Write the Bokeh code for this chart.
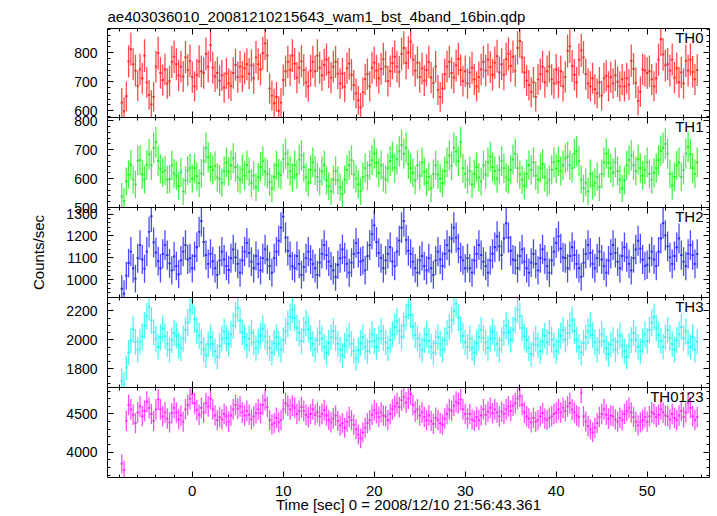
import math
import numpy as np
from bokeh.plotting import figure
from bokeh.models import Range1d, FixedTicker, LinearAxis, Label
from bokeh.layouts import column
from bokeh.embed import file_html
from bokeh.resources import INLINE

title_text = "ae403036010_20081210215643_wam1_bst_4band_16bin.qdp"
x_title = "Time [sec] 0 = 2008/12/10 21:56:43.361"
y_title = "Counts/sec"
panel_names = ["TH0", "TH1", "TH2", "TH3", "TH0123"]

t_first = -7.75
bin_width = 0.25

th0 = [628, 598, 650, 770, 812, 760, 738, 686, 742, 712, 790, 698, 655, 622, 648, 752,
       798, 730, 706, 742, 694, 702, 768, 786, 760, 722, 752, 718, 784, 740, 772, 716,
       684, 724, 770, 736, 730, 796, 752, 826, 748, 718, 730, 704, 722, 680, 728, 694,
       686, 730, 758, 716, 752, 718, 746, 760, 728, 756, 712, 784, 760, 742, 798, 832,
       790, 676, 652, 626, 648, 600, 628, 706, 736, 768, 740, 790, 762, 714, 748, 770,
       740, 698, 684, 738, 768, 736, 790, 748, 722, 758, 776, 732, 714, 752, 768, 728,
       694, 728, 682, 746, 762, 724, 688, 660, 636, 612, 664, 708, 726, 684, 748, 766,
       738, 712, 744, 778, 752, 702, 736, 764, 786, 752, 734, 796, 816, 764, 800, 838,
       776, 738, 766, 716, 746, 704, 740, 768, 714, 696, 752, 672, 648, 676, 726, 752,
       768, 730, 714, 756, 778, 740, 702, 736, 694, 732, 748, 708, 684, 716, 742, 768,
       738, 776, 750, 724, 766, 788, 732, 760, 724, 778, 796, 754, 786, 738, 816, 840,
       784, 732, 704, 688, 664, 698, 648, 708, 726, 752, 698, 736, 752, 708, 694, 742,
       698, 736, 684, 716, 806, 822, 754, 724, 698, 776, 808, 784, 726, 694, 684, 712,
       674, 660, 698, 652, 712, 720, 684, 716, 694, 722, 700, 684, 708, 684, 712, 690,
       772, 744, 696, 634, 666, 742, 738, 730, 736, 708, 684, 712, 776, 846, 794, 756,
       760, 738, 776, 714, 746, 698, 732, 694, 772, 738, 776, 734, 708, 740]

th1 = [538, 522, 590, 614, 648, 596, 580, 662, 664, 614, 596, 648, 684, 646, 706, 726,
       660, 634, 622, 628, 596, 598, 646, 618, 610, 574, 622, 556, 594, 628, 636, 600,
       636, 608, 584, 618, 660, 706, 674, 640, 630, 644, 604, 598, 586, 626, 656, 624,
       646, 670, 640, 604, 596, 632, 610, 646, 624, 584, 610, 570, 604, 640, 660, 624,
       616, 588, 566, 606, 646, 618, 612, 668, 686, 650, 626, 604, 646, 614, 666, 680,
       640, 604, 586, 630, 656, 628, 606, 590, 626, 646, 594, 574, 556, 596, 626, 594,
       570, 546, 596, 630, 646, 664, 614, 600, 580, 556, 606, 636, 610, 646, 664, 686,
       654, 620, 646, 604, 596, 636, 660, 676, 636, 666, 694, 716, 686, 706, 650, 636,
       620, 594, 646, 610, 656, 624, 586, 606, 566, 616, 646, 614, 600, 584, 626, 656,
       680, 644, 706, 694, 660, 726, 636, 616, 596, 626, 580, 616, 640, 604, 590, 646,
       614, 656, 676, 640, 626, 600, 630, 660, 636, 604, 596, 630, 666, 686, 636, 614,
       596, 576, 616, 646, 630, 656, 610, 596, 636, 650, 604, 586, 596, 630, 656, 634,
       660, 626, 646, 670, 676, 646, 636, 686, 694, 660, 596, 566, 586, 556, 616, 576,
       586, 606, 570, 616, 656, 686, 654, 636, 620, 656, 626, 596, 566, 594, 646, 664,
       680, 646, 626, 666, 636, 610, 630, 656, 616, 596, 620, 636, 664, 696, 706, 720,
       686, 616, 576, 606, 646, 656, 606, 630, 686, 710, 684, 636, 616, 656]

th2 = [958, 936, 1018, 1076, 1128, 1052, 1004, 1098, 1158, 1092, 1050, 1128, 1218, 1290, 1170, 1124,
       1084, 1052, 1118, 1158, 1112, 1074, 1042, 1106, 1062, 1024, 1088, 1128, 1158, 1092, 1098, 1052,
       1108, 1148, 1218, 1268, 1172, 1112, 1072, 1118, 1084, 1052, 1022, 1088, 1128, 1092, 1062, 1044,
       1098, 1138, 1102, 1072, 1032, 1088, 1128, 1168, 1122, 1082, 1052, 1108, 1072, 1042, 1098, 1138,
       1092, 1062, 1032, 1098, 1128, 1178, 1238, 1288, 1192, 1132, 1108, 1062, 1052, 1108, 1072, 1022,
       1058, 1098, 1128, 1092, 1072, 1052, 1022, 1078, 1118, 1158, 1112, 1082, 1062, 1042, 1012, 1068,
       1098, 1138, 1102, 1072, 1032, 1078, 1118, 1168, 1122, 1082, 1088, 1042, 1108, 1158, 1208, 1248,
       1172, 1122, 1098, 1052, 1088, 1118, 1148, 1082, 1062, 1128, 1178, 1238, 1268, 1182, 1132, 1118,
       1082, 1052, 1032, 1088, 1108, 1062, 1042, 1098, 1052, 1022, 1088, 1128, 1092, 1062, 1118, 1158,
       1132, 1188, 1238, 1192, 1142, 1102, 1088, 1052, 1098, 1052, 1032, 1088, 1118, 1158, 1112, 1082,
       1062, 1032, 1088, 1118, 1148, 1198, 1152, 1112, 1188, 1258, 1192, 1132, 1092, 1088, 1052, 1108,
       1138, 1082, 1052, 1032, 1078, 1118, 1072, 1042, 1098, 1138, 1092, 1062, 1032, 1088, 1128, 1168,
       1198, 1142, 1102, 1098, 1052, 1108, 1148, 1112, 1072, 1052, 1012, 1078, 1118, 1158, 1122, 1072,
       1052, 1098, 1128, 1092, 1062, 1032, 1088, 1118, 1158, 1122, 1082, 1052, 1108, 1148, 1102, 1072,
       1042, 1098, 1138, 1178, 1142, 1092, 1062, 1068, 1098, 1128, 1092, 1062, 1128, 1188, 1258, 1202,
       1152, 1102, 1072, 1108, 1148, 1188, 1112, 1082, 1062, 1118, 1158, 1112, 1072, 1118]

th3 = [1718, 1694, 1808, 1912, 1996, 2072, 1986, 1932, 1988, 2024, 2098, 2162, 2228, 2132, 2052, 2008,
       1952, 2018, 2078, 2024, 1972, 1932, 1998, 2048, 2028, 1962, 1942, 2008, 2068, 2118, 2208, 2268,
       2142, 2062, 2028, 1982, 1932, 1892, 1968, 2018, 1972, 1922, 1882, 1958, 2008, 2058, 2012, 1972,
       2038, 2098, 2168, 2218, 2132, 2052, 2018, 1962, 2008, 2048, 1982, 1942, 1988, 2028, 2078, 2022,
       1982, 1942, 1912, 1978, 2018, 1972, 1932, 1998, 2058, 2108, 2158, 2208, 2152, 2082, 2048, 1992,
       2068, 2118, 2072, 2012, 1972, 1932, 1998, 2048, 2008, 1952, 1912, 1978, 2018, 2058, 2012, 1972,
       1932, 1892, 1958, 1998, 2028, 1972, 1922, 1872, 1928, 1978, 2018, 1952, 1922, 1988, 2038, 1992,
       1952, 2008, 2058, 2012, 1982, 1942, 1998, 2038, 2088, 2128, 2062, 2022, 2098, 2158, 2238, 2172,
       2092, 2032, 2008, 1962, 1932, 1998, 2038, 1992, 1952, 1912, 1978, 2018, 1972, 1932, 1998, 2048,
       2088, 2138, 2198, 2248, 2152, 2072, 2028, 1982, 1952, 2008, 1942, 1912, 1978, 2018, 2068, 2012,
       1982, 1942, 2008, 2058, 2012, 1972, 1932, 1998, 2048, 2098, 2052, 2002, 2068, 2138, 2208, 2162,
       2082, 2022, 1998, 1942, 1902, 1968, 2008, 1962, 1922, 1988, 2028, 1982, 2048, 2002, 1962, 1922,
       1988, 2028, 2068, 2002, 2048, 2098, 2138, 2062, 2002, 1952, 1912, 1978, 2018, 2058, 2098, 2032,
       1982, 1932, 1988, 2038, 1992, 1942, 1902, 1968, 1998, 1932, 1988, 2028, 1962, 1922, 1882, 1958,
       1998, 2048, 2002, 1952, 1922, 1988, 2038, 1992, 2068, 2118, 2158, 2082, 2032, 1992, 1952, 2018,
       2068, 2012, 1972, 1932, 1998, 2038, 2088, 2012, 2058, 1982, 1952, 2018, 1932, 1988]

th0123 = [3850, 3770, 4410, 4620, 4560, 4490, 4380, 4520, 4600, 4470, 4540, 4660, 4580, 4500, 4410, 4560,
          4690, 4560, 4470, 4520, 4440, 4390, 4510, 4580, 4520, 4430, 4480, 4400, 4560, 4620, 4700, 4760,
          4640, 4550, 4490, 4580, 4520, 4640, 4600, 4700, 4560, 4480, 4420, 4460, 4430, 4500, 4470, 4400,
          4480, 4560, 4620, 4570, 4600, 4520, 4480, 4540, 4490, 4430, 4470, 4510, 4560, 4510, 4620, 4680,
          4590, 4420, 4360, 4380, 4450, 4390, 4420, 4560, 4640, 4610, 4560, 4610, 4580, 4500, 4540, 4590,
          4540, 4490, 4460, 4500, 4560, 4490, 4520, 4470, 4500, 4550, 4480, 4420, 4390, 4440, 4480, 4410,
          4350, 4380, 4320, 4400, 4460, 4420, 4360, 4300, 4230, 4180, 4260, 4320, 4380, 4420, 4490, 4550,
          4510, 4460, 4520, 4480, 4470, 4420, 4500, 4560, 4600, 4640, 4590, 4680, 4720, 4650, 4700, 4760,
          4620, 4530, 4560, 4480, 4520, 4460, 4420, 4480, 4410, 4370, 4450, 4420, 4380, 4360, 4440, 4500,
          4560, 4540, 4610, 4660, 4640, 4690, 4560, 4500, 4440, 4500, 4430, 4410, 4460, 4420, 4480, 4560,
          4490, 4530, 4580, 4510, 4560, 4520, 4470, 4530, 4500, 4560, 4600, 4540, 4610, 4640, 4700, 4730,
          4620, 4520, 4470, 4440, 4390, 4450, 4400, 4420, 4470, 4510, 4440, 4420, 4450, 4470, 4500, 4520,
          4560, 4520, 4580, 4540, 4600, 4640, 4560, 4520, 4480, 4460, 4780, 4470, 4400, 4340, 4300, 4260,
          4320, 4380, 4460, 4500, 4560, 4490, 4440, 4480, 4470, 4430, 4400, 4450, 4420, 4500, 4540, 4580,
          4520, 4460, 4400, 4350, 4390, 4420, 4460, 4400, 4470, 4520, 4500, 4460, 4490, 4560, 4520, 4480,
          4470, 4430, 4500, 4450, 4420, 4480, 4540, 4460, 4520, 4650, 4580, 4470, 4420, 4460]

series = [th0, th1, th2, th3, th0123]
colors = ["#ff2a2a", "#2aee2a", "#2a2aff", "#2af5f5", "#ff2aff"]
y_limits = [(577, 883), (500, 811), (918, 1330), (1671, 2292), (3670, 4846)]
y_major_ticks = [[600, 700, 800], [500, 600, 700, 800], [1000, 1100, 1200, 1300],
                 [1800, 2000, 2200], [4000, 4500]]
y_minor_step = [20, 20, 20, 50, 100]
x_major_ticks = [0, 10, 20, 30, 40, 50]
x_minor_ticks = list(range(-8, 57, 2))
x_limits = (-9.32, 56.85)

FONT = "Liberation Sans"
M = 12  # overlap band between stacked panels
frame_h = [89, 90, 90, 90, 90]
tops = [28, M, M, M, M]
bottoms = [M, M, M, M, 39]


def style_axis(ax, show_labels, show_line=True):
    ax.axis_line_color = "black" if show_line else None
    ax.axis_line_width = 1
    ax.major_tick_in = 6
    ax.major_tick_out = 0
    ax.minor_tick_in = 3
    ax.minor_tick_out = 0
    ax.major_tick_line_color = "black"
    ax.minor_tick_line_color = "black"
    if show_labels:
        ax.major_label_text_font = FONT
        ax.major_label_text_font_size = "14px"
        ax.major_label_text_color = "black"
    else:
        ax.major_label_text_font_size = "0px"
        ax.major_label_text_color = None
        ax.major_label_standoff = 0


figs = []
for i in range(5):
    lo, hi = y_limits[i]
    p = figure(width=717, height=tops[i] + frame_h[i] + bottoms[i],
               x_range=Range1d(*x_limits), y_range=Range1d(lo, hi),
               output_backend="svg", toolbar_location=None,
               x_axis_location=None, y_axis_location=None,
               min_border_left=107, min_border_right=8,
               min_border_top=tops[i], min_border_bottom=bottoms[i])
    p.outline_line_color = None
    p.grid.visible = False
    p.background_fill_color = "white"
    p.border_fill_color = None
    if i > 0:
        p.styles = {"margin-top": f"-{2 * M}px"}

    xt = FixedTicker(ticks=x_major_ticks, minor_ticks=x_minor_ticks)
    step = y_minor_step[i]
    ymin = [float(v) for v in np.arange(math.ceil(lo / step) * step, hi + 1, step)]
    yt = FixedTicker(ticks=y_major_ticks[i], minor_ticks=ymin)

    bottom_ax = LinearAxis(ticker=xt)
    style_axis(bottom_ax, i == 4, show_line=(i == 4))
    if i == 4:
        bottom_ax.major_label_text_font_size = "15px"
        bottom_ax.major_label_standoff = 8
        bottom_ax.axis_label = x_title
        bottom_ax.axis_label_text_font = FONT
        bottom_ax.axis_label_text_font_size = "15px"
        bottom_ax.axis_label_text_font_style = "normal"
        bottom_ax.axis_label_text_color = "black"
        bottom_ax.axis_label_standoff = -3
    p.add_layout(bottom_ax, "below")

    top_ax = LinearAxis(ticker=xt)
    style_axis(top_ax, False)
    p.add_layout(top_ax, "above")

    left_ax = LinearAxis(ticker=yt)
    style_axis(left_ax, True)
    left_ax.major_label_standoff = 10
    if i == 2:
        left_ax.axis_label = y_title
        left_ax.axis_label_text_font = FONT
        left_ax.axis_label_text_font_size = "15px"
        left_ax.axis_label_text_font_style = "normal"
        left_ax.axis_label_text_color = "black"
        left_ax.axis_label_standoff = 16
    p.add_layout(left_ax, "left")

    right_ax = LinearAxis(ticker=yt)
    style_axis(right_ax, False)
    p.add_layout(right_ax, "right")

    v = np.array(series[i], dtype=float)
    t = t_first + bin_width * np.arange(len(v))
    err = np.sqrt(v * bin_width) / bin_width
    p.segment(x0=t, y0=v - err, x1=t, y1=v + err,
              line_color=colors[i], line_width=1.3, line_alpha=0.85)
    p.segment(x0=t - bin_width / 2, y0=v, x1=t + bin_width / 2, y1=v,
              line_color=colors[i], line_width=1.8)

    p.add_layout(Label(x=x_limits[1], y=hi, x_offset=-6, y_offset=0,
                       text=panel_names[i], text_align="right", text_baseline="top",
                       text_font=FONT, text_font_size="15px", text_color="black"))
    figs.append(p)

figs[0].title.text = title_text
figs[0].title.align = "left"
figs[0].title.text_font = FONT
figs[0].title.text_font_size = "15px"
figs[0].title.text_font_style = "normal"
figs[0].title.text_color = "black"
figs[0].title.standoff = 7

layout = column(*figs, spacing=0)
open("out.html", "w").write(file_html(layout, INLINE))
